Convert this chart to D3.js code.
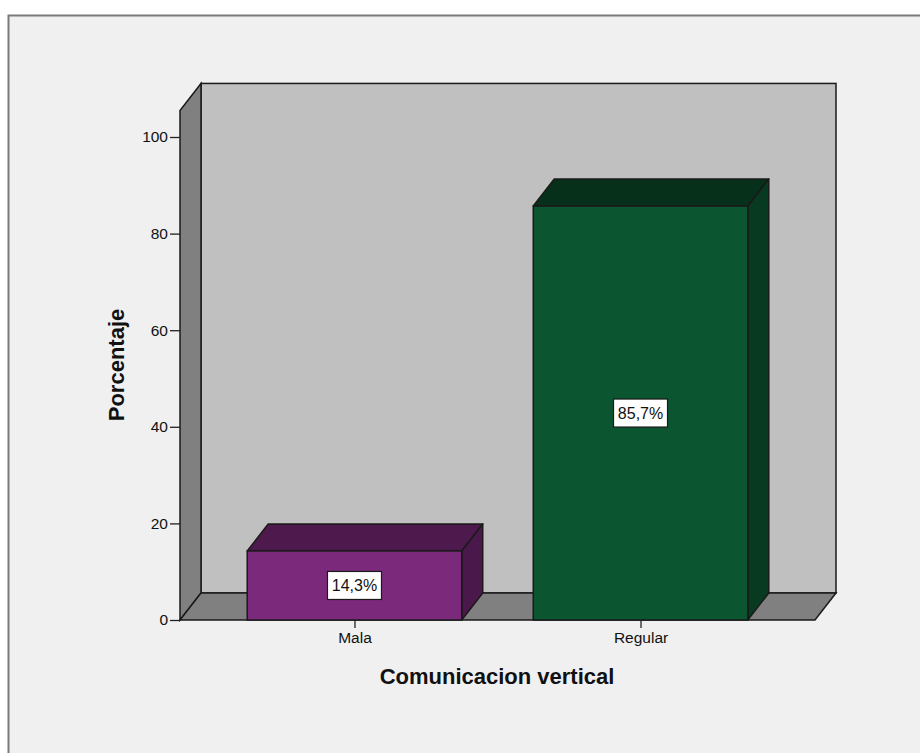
<!DOCTYPE html>
<html>
<head>
<meta charset="utf-8">
<script src="https://cdn.jsdelivr.net/npm/d3@7"></script>
<style>
  html, body { margin: 0; padding: 0; background: #ffffff; overflow: hidden; }
  svg { display: block; }
  text { font-family: Arial, "Liberation Sans", sans-serif; }
</style>
</head>
<body>
<svg id="chart" width="920" height="753"></svg>
<script>
// Percentages per category of "Comunicacion vertical"
const categories = ["Mala", "Regular"];
const values = [14.3, 85.7];
const valueLabels = ["14,3%", "85,7%"];
const yTicks = [0, 20, 40, 60, 80, 100];
const frontColors = ["#7b2a7b", "#0b5530"];
const topColors = ["#4e1a4e", "#07301b"];
const sideColors = ["#4a184a", "#073a20"];

const svg = d3.select("#chart");

// outer panel
svg.append("rect")
  .attr("x", 8.5).attr("y", 15.5)
  .attr("width", 940).attr("height", 760)
  .attr("fill", "#f0f0f0")
  .attr("stroke", "#7a7a7a").attr("stroke-width", 2);

// plot frame
const x0 = 180, x1 = 815, yBase = 620;
const dx = 21, dy = -27;

const y = d3.scaleLinear().domain([0, 105.5]).range([yBase, yBase - 105.5 * 4.83]);
const x = d3.scalePoint().domain(categories).range([x0, x1]).padding(0.61);
const barW = x.step() * 0.75;

const yTop = y.range()[1];
const line = "#1a1a1a";

// back wall
svg.append("rect")
  .attr("x", x0 + dx).attr("y", yTop + dy)
  .attr("width", x1 - x0).attr("height", yBase - yTop)
  .attr("fill", "#c0c0c0").attr("stroke", line).attr("stroke-width", 1.5);

// left wall
svg.append("path")
  .attr("d", `M${x0},${yBase} L${x0},${yTop} L${x0 + dx},${yTop + dy} L${x0 + dx},${yBase + dy} Z`)
  .attr("fill", "#808080").attr("stroke", line).attr("stroke-width", 1.5);

// floor
svg.append("path")
  .attr("d", `M${x0},${yBase} L${x1},${yBase} L${x1 + dx},${yBase + dy} L${x0 + dx},${yBase + dy} Z`)
  .attr("fill", "#808080").attr("stroke", line).attr("stroke-width", 1.5);

// bars as boxes: top face, side face, front face
const bars = svg.append("g").selectAll("g").data(values).join("g");

bars.each(function(v, i) {
  const g = d3.select(this);
  const cx = x(categories[i]);
  const bx = cx - barW / 2, ex = cx + barW / 2;
  const ty = y(v);
  g.append("path")
    .attr("d", `M${bx},${ty} L${bx + dx},${ty + dy} L${ex + dx},${ty + dy} L${ex},${ty} Z`)
    .attr("fill", topColors[i]).attr("stroke", line).attr("stroke-width", 1.5).attr("stroke-linejoin", "round");
  g.append("path")
    .attr("d", `M${ex},${ty} L${ex + dx},${ty + dy} L${ex + dx},${yBase + dy} L${ex},${yBase} Z`)
    .attr("fill", sideColors[i]).attr("stroke", line).attr("stroke-width", 1.5).attr("stroke-linejoin", "round");
  g.append("rect")
    .attr("x", bx).attr("y", ty)
    .attr("width", barW).attr("height", yBase - ty)
    .attr("fill", frontColors[i]).attr("stroke", line).attr("stroke-width", 1.5);

  // value label box
  const my = (ty + yBase) / 2;
  g.append("rect")
    .attr("x", cx - 27).attr("y", my - 14)
    .attr("width", 54).attr("height", 28)
    .attr("fill", "#ffffff").attr("stroke", "#1a1a1a").attr("stroke-width", 1.2);
  g.append("text")
    .attr("x", cx).attr("y", my + 6)
    .attr("text-anchor", "middle")
    .attr("font-size", 16).attr("fill", "#111")
    .text(valueLabels[i]);
});

// y axis
const yAxis = svg.append("g")
  .attr("transform", `translate(${x0},0)`)
  .call(d3.axisLeft(y).tickValues(yTicks).tickSize(10).tickPadding(2).tickFormat(d3.format("d")));
yAxis.select(".domain").remove();
yAxis.selectAll(".tick line").attr("stroke", "#222").attr("stroke-width", 1.3);
yAxis.selectAll(".tick text")
  .attr("font-size", 15.5).attr("fill", "#111")
  .attr("font-family", "Arial, 'Liberation Sans', sans-serif");

// x axis
const xAxis = svg.append("g")
  .attr("transform", `translate(0,${yBase})`)
  .call(d3.axisBottom(x).tickSize(8).tickPadding(4));
xAxis.select(".domain").remove();
xAxis.selectAll(".tick line").attr("stroke", "#222").attr("stroke-width", 1.3);
xAxis.selectAll(".tick text")
  .attr("font-size", 15.5).attr("fill", "#111")
  .attr("font-family", "Arial, 'Liberation Sans', sans-serif");

// axis titles
svg.append("text")
  .attr("x", 497).attr("y", 684)
  .attr("text-anchor", "middle")
  .attr("font-size", 22).attr("font-weight", "bold").attr("fill", "#111")
  .text("Comunicacion vertical");

svg.append("text")
  .attr("transform", "translate(124,365) rotate(-90)")
  .attr("text-anchor", "middle")
  .attr("font-size", 22).attr("font-weight", "bold").attr("fill", "#111")
  .text("Porcentaje");
</script>
</body>
</html>
